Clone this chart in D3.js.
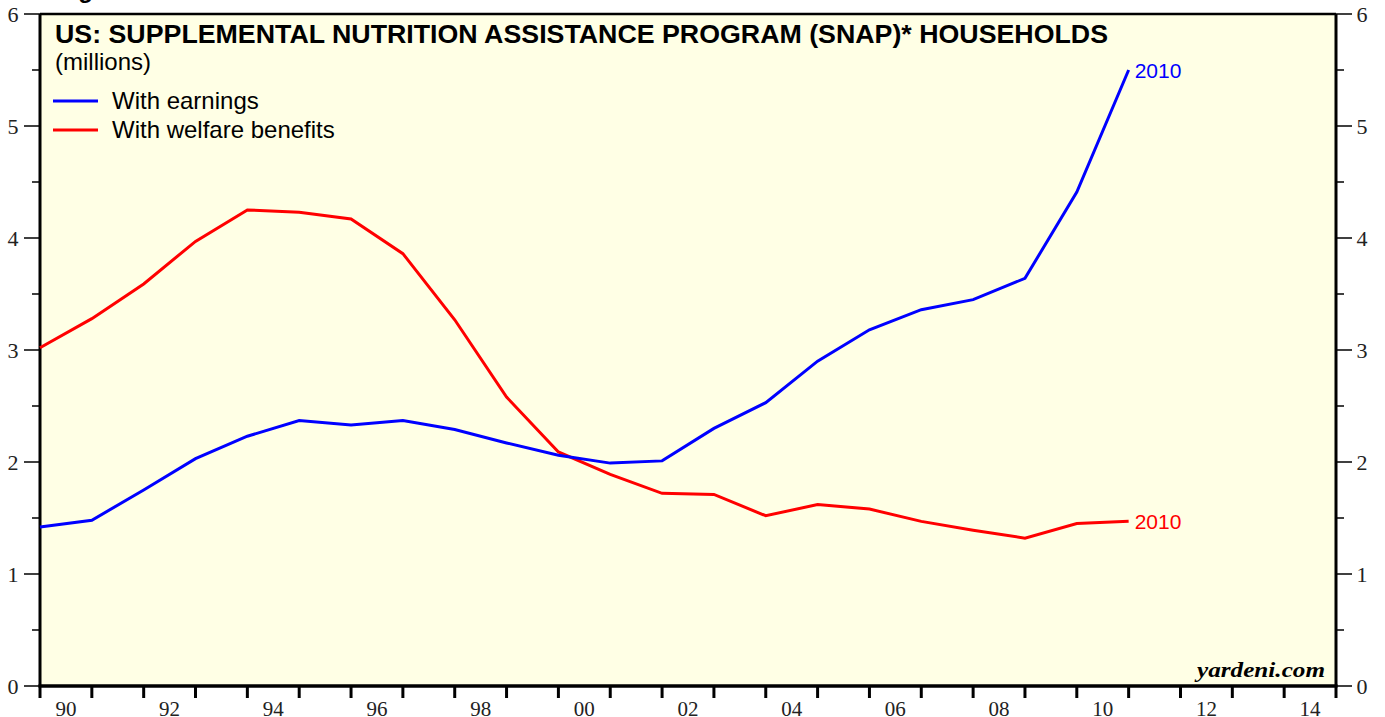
<!DOCTYPE html>
<html>
<head>
<meta charset="utf-8">
<script src="https://cdn.jsdelivr.net/npm/d3@7"></script>
<style>
  body { margin: 0; background: #fff; }
  svg { display: block; }
</style>
</head>
<body>
<div id="chart"></div>
<script>
// SNAP households, millions, fiscal years 1989-2010 (plotted at year end)
const years = [1989, 1990, 1991, 1992, 1993, 1994, 1995, 1996, 1997, 1998, 1999,
               2000, 2001, 2002, 2003, 2004, 2005, 2006, 2007, 2008, 2009, 2010];
const withEarnings = [1.42, 1.48, 1.75, 2.03, 2.23, 2.37, 2.33, 2.37, 2.29, 2.17, 2.06,
                      1.99, 2.01, 2.30, 2.53, 2.90, 3.18, 3.36, 3.45, 3.64, 4.41, 5.50];
const withWelfare = [3.02, 3.28, 3.59, 3.97, 4.25, 4.23, 4.17, 3.86, 3.27, 2.58, 2.09,
                     1.89, 1.72, 1.71, 1.52, 1.62, 1.58, 1.47, 1.39, 1.32, 1.45, 1.47];
const yTicks = [0, 1, 2, 3, 4, 5, 6];
const xLabelYears = [1990, 1992, 1994, 1996, 1998, 2000, 2002, 2004, 2006, 2008, 2010, 2012, 2014];

const W = 1385, H = 717;
const margin = { top: 14, right: 49, bottom: 31, left: 40 };
const width = W - margin.left - margin.right;
const height = H - margin.top - margin.bottom;

const serif = "'Liberation Serif', 'Times New Roman', serif";
const sans = "'Liberation Sans', Arial, sans-serif";

const svg = d3.select("#chart").append("svg")
    .attr("width", W)
    .attr("height", H);

// cut-off caption above the frame
svg.append("text")
    .attr("x", 57)
    .attr("y", -2)
    .style("font-family", sans)
    .style("font-weight", "bold")
    .style("font-size", "24px")
    .text("Figure");

const g = svg.append("g")
    .attr("transform", `translate(${margin.left},${margin.top})`);

const x = d3.scaleLinear().domain([1990, 2015]).range([0, width]);
const y = d3.scaleLinear().domain([0, 6]).range([height, 0]);

g.append("rect")
    .attr("width", width)
    .attr("height", height)
    .attr("fill", "#ffffe5");

// left axis
const halfTicks = d3.range(0.5, 6, 1);
g.selectAll(".ltick-minor").data(halfTicks).enter().append("line")
    .attr("x1", -8).attr("x2", 0)
    .attr("y1", d => y(d)).attr("y2", d => y(d))
    .attr("stroke", "#000").attr("stroke-width", 1.5);
g.selectAll(".ltick").data(yTicks).enter().append("line")
    .attr("x1", -16).attr("x2", 0)
    .attr("y1", d => y(d)).attr("y2", d => y(d))
    .attr("stroke", "#000").attr("stroke-width", 1.5);
g.selectAll(".llab").data(yTicks).enter().append("text")
    .attr("x", -27)
    .attr("y", d => y(d) + 8)
    .attr("text-anchor", "middle")
    .style("font-family", serif)
    .style("font-size", "22px")
    .attr("fill", "#222")
    .text(d => d);

// right axis
g.selectAll(".rtick-minor").data(halfTicks).enter().append("line")
    .attr("x1", width).attr("x2", width + 8)
    .attr("y1", d => y(d)).attr("y2", d => y(d))
    .attr("stroke", "#000").attr("stroke-width", 1.5);
g.selectAll(".rtick").data(yTicks).enter().append("line")
    .attr("x1", width).attr("x2", width + 16)
    .attr("y1", d => y(d)).attr("y2", d => y(d))
    .attr("stroke", "#000").attr("stroke-width", 1.5);
g.selectAll(".rlab").data(yTicks).enter().append("text")
    .attr("x", width + 26)
    .attr("y", d => y(d) + 8)
    .attr("text-anchor", "middle")
    .style("font-family", serif)
    .style("font-size", "22px")
    .attr("fill", "#222")
    .text(d => d);

// bottom axis: yearly ticks, labels centred on every other year
g.selectAll(".xtick").data(d3.range(1990, 2016)).enter().append("line")
    .attr("x1", d => x(d)).attr("x2", d => x(d))
    .attr("y1", height).attr("y2", height + 12)
    .attr("stroke", "#000").attr("stroke-width", 3);
g.selectAll(".xlab").data(xLabelYears).enter().append("text")
    .attr("x", d => x(d + 0.5))
    .attr("y", height + 30)
    .attr("text-anchor", "middle")
    .style("font-family", serif)
    .style("font-size", "21px")
    .attr("fill", "#222")
    .text(d => String(d).slice(2));

// frame
g.append("line").attr("x1", 0).attr("x2", width).attr("y1", 0).attr("y2", 0)
    .attr("stroke", "#000").attr("stroke-width", 2.5);
g.append("line").attr("x1", 0).attr("x2", 0).attr("y1", 0).attr("y2", height)
    .attr("stroke", "#000").attr("stroke-width", 3);
g.append("line").attr("x1", width).attr("x2", width).attr("y1", 0).attr("y2", height)
    .attr("stroke", "#000").attr("stroke-width", 3);
g.append("line").attr("x1", -1.5).attr("x2", width + 1.5).attr("y1", height).attr("y2", height)
    .attr("stroke", "#000").attr("stroke-width", 3.5);

// lines
const line = d3.line()
    .x((d, i) => x(years[i] + 1))
    .y(d => y(d));

g.append("path")
    .datum(withWelfare)
    .attr("fill", "none")
    .attr("stroke", "#ff0000")
    .attr("stroke-width", 3)
    .attr("d", line);

g.append("path")
    .datum(withEarnings)
    .attr("fill", "none")
    .attr("stroke", "#0000ff")
    .attr("stroke-width", 3)
    .attr("d", line);

// end labels
const last = years.length - 1;
g.append("text")
    .attr("x", x(years[last] + 1) + 6)
    .attr("y", y(withEarnings[last]) + 8)
    .style("font-family", sans)
    .style("font-size", "21px")
    .attr("fill", "#0000ff")
    .text(years[last]);
g.append("text")
    .attr("x", x(years[last] + 1) + 6)
    .attr("y", y(withWelfare[last]) + 8)
    .style("font-family", sans)
    .style("font-size", "21px")
    .attr("fill", "#ff0000")
    .text(years[last]);

// title
g.append("text")
    .attr("x", 15)
    .attr("y", 29)
    .attr("textLength", 1053)
    .attr("lengthAdjust", "spacingAndGlyphs")
    .style("font-family", sans)
    .style("font-weight", "bold")
    .style("font-size", "25px")
    .text("US: SUPPLEMENTAL NUTRITION ASSISTANCE PROGRAM (SNAP)* HOUSEHOLDS");
g.append("text")
    .attr("x", 15)
    .attr("y", 56)
    .style("font-family", sans)
    .style("font-size", "24px")
    .text("(millions)");

// legend
const legend = [
    { name: "With earnings", color: "#0000ff" },
    { name: "With welfare benefits", color: "#ff0000" }
];
const lg = g.selectAll(".legend").data(legend).enter().append("g")
    .attr("transform", (d, i) => `translate(13,${87 + i * 29})`);
lg.append("line")
    .attr("x1", 0).attr("x2", 45)
    .attr("stroke", d => d.color)
    .attr("stroke-width", 3);
lg.append("text")
    .attr("x", 59)
    .attr("y", 8)
    .style("font-family", sans)
    .style("font-size", "24px")
    .text(d => d.name);

// watermark
g.append("text")
    .attr("x", width - 11)
    .attr("y", height - 9)
    .attr("textLength", 128)
    .attr("lengthAdjust", "spacingAndGlyphs")
    .attr("text-anchor", "end")
    .style("font-family", serif)
    .style("font-weight", "bold")
    .style("font-style", "italic")
    .style("font-size", "22px")
    .text("yardeni.com");
</script>
</body>
</html>
